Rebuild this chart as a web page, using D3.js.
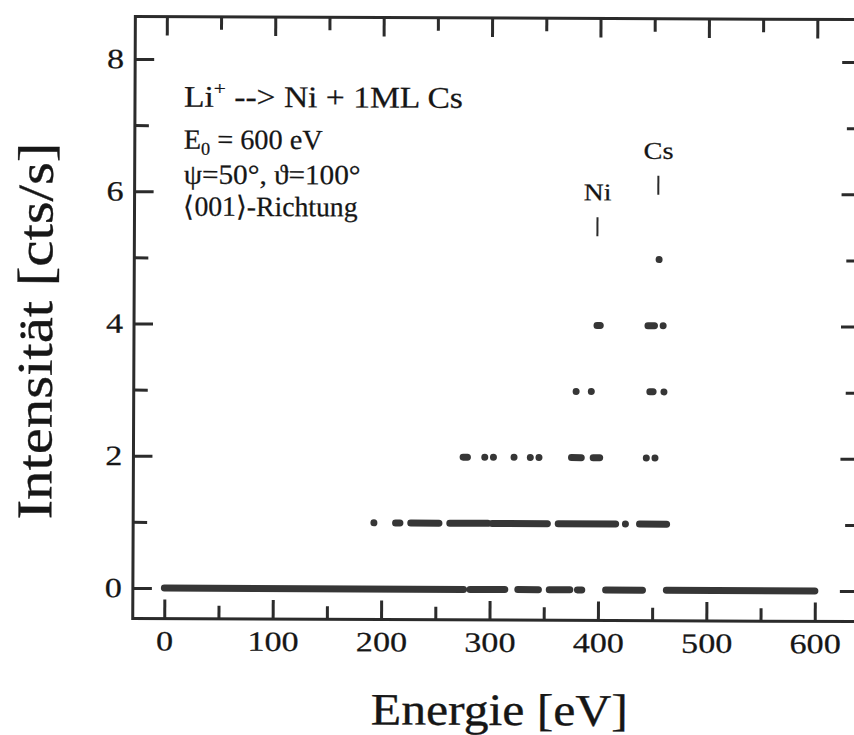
<!DOCTYPE html>
<html>
<head>
<meta charset="utf-8">
<script src="https://cdn.jsdelivr.net/npm/d3@7"></script>
<style>
  html, body { margin: 0; padding: 0; background: #fff; }
  svg { display: block; }
</style>
</head>
<body>
<svg id="chart" width="854" height="735"></svg>
<script>
// Energy spectrum of Li+ scattered from Ni + 1 ML Cs.
// For every count rate (cts/s) the energy ranges [from, to] in eV
// where measured points sit at that rate (from == to is a single point).
const countLevels = [0, 1, 2, 3, 4, 5];
const runsAt0 = [[0, 276], [282, 314], [326, 345], [355, 374], [381, 385], [407, 441], [463, 600]];
const runsAt1 = [[193, 193], [213, 217], [227, 253], [263, 298], [302, 353], [363, 416], [425, 425], [438, 463]];
const runsAt2 = [[275, 279], [295, 295], [303, 303], [322, 322], [337, 337], [345, 345], [375, 384], [395, 401], [444, 444], [452, 452]];
const runsAt3 = [[379, 379], [393, 393], [447, 450], [460, 460]];
const runsAt4 = [[398, 401], [445, 451], [459, 459]];
const runsAt5 = [[455, 455]];

const energyMajorTicks = [0, 100, 200, 300, 400, 500, 600];
const energyMinorTicks = [50, 150, 250, 350, 450, 550];
const rateMajorTicks = [0, 2, 4, 6, 8];
const rateMinorTicks = [1, 3, 5, 7];

// element markers: name, energy (eV), rate level where the marker stroke ends
const peakNames = ["Ni", "Cs"];
const peakEnergies = [398, 454];
const peakMarkerRates = [5.35, 5.98];

const xTitle = "Energie [eV]";
const yTitle = "Intensität [cts/s]";

// ---------------------------------------------------------------------------
const svg = d3.select("#chart");
const frame = { left: 134, top: 18, right: 860, bottom: 620 };
const x = d3.scaleLinear().domain([0, 600]).range([165.5, 816]);
const y = d3.scaleLinear().domain([0, 8]).range([589.5, 60.5]);

const ink = "#2b2b2b";
const textInk = "#161616";
const dotInk = "#363636";
const serif = '"Liberation Serif", "Times New Roman", Times, serif';
const dotR = 3.5;
const textWeight = 0.25; // thin outline that thickens the glyphs a little

// the whole figure sits very slightly turned
const g = svg.append("g").attr("transform", "rotate(0.25 490 330)");

// frame
g.append("rect")
  .attr("x", frame.left).attr("y", frame.top)
  .attr("width", frame.right - frame.left)
  .attr("height", frame.bottom - frame.top)
  .attr("fill", "none").attr("stroke", ink).attr("stroke-width", 3);

function styleAxis(sel, labelStretch) {
  sel.attr("font-family", null).attr("font-size", null);
  sel.select(".domain").remove();
  sel.selectAll(".tick line").attr("stroke", ink).attr("stroke-width", 3);
  sel.selectAll(".tick text")
    .attr("fill", textInk)
    .attr("stroke", textInk)
    .attr("stroke-width", textWeight)
    .attr("font-family", serif)
    .attr("font-size", 28)
    .attr("transform", `scale(${labelStretch},1)`);
}
const none = () => "";
const fmt = d3.format("d");

// bottom: energy axis, ticks point inward
g.append("g").attr("transform", `translate(0,${frame.bottom})`)
  .call(d3.axisBottom(x).tickValues(energyMajorTicks).tickSize(-19).tickPadding(12).tickFormat(fmt))
  .call(s => styleAxis(s, 1.22));
g.append("g").attr("transform", `translate(0,${frame.bottom})`)
  .call(d3.axisBottom(x).tickValues(energyMinorTicks).tickSize(-13).tickFormat(none))
  .call(s => styleAxis(s, 1));

// top
g.append("g").attr("transform", `translate(0,${frame.top})`)
  .call(d3.axisTop(x).tickValues(energyMajorTicks).tickSize(-19).tickFormat(none))
  .call(s => styleAxis(s, 1));
g.append("g").attr("transform", `translate(0,${frame.top})`)
  .call(d3.axisTop(x).tickValues(energyMinorTicks).tickSize(-13).tickFormat(none))
  .call(s => styleAxis(s, 1));

// left: count-rate axis
g.append("g").attr("transform", `translate(${frame.left},0)`)
  .call(d3.axisLeft(y).tickValues(rateMajorTicks).tickSize(-19).tickPadding(9).tickFormat(fmt))
  .call(s => styleAxis(s, 1.22));
g.append("g").attr("transform", `translate(${frame.left},0)`)
  .call(d3.axisLeft(y).tickValues(rateMinorTicks).tickSize(-14).tickFormat(none))
  .call(s => styleAxis(s, 1));

// right
g.append("g").attr("transform", `translate(${frame.right},0)`)
  .call(d3.axisRight(y).tickValues(rateMajorTicks).tickSize(-19).tickFormat(none))
  .call(s => styleAxis(s, 1));
g.append("g").attr("transform", `translate(${frame.right},0)`)
  .call(d3.axisRight(y).tickValues(rateMinorTicks).tickSize(-14).tickFormat(none))
  .call(s => styleAxis(s, 1));

// measured points: neighbouring points merge into rounded runs
const levelRuns = [runsAt0, runsAt1, runsAt2, runsAt3, runsAt4, runsAt5];
const runs = countLevels.flatMap((c, i) =>
  levelRuns[i].map(([e0, e1]) => ({ count: c, e0, e1 })));

g.append("g").selectAll("rect")
  .data(runs)
  .join("rect")
  .attr("x", d => x(d.e0) - dotR)
  .attr("y", d => y(d.count) - dotR)
  .attr("width", d => x(d.e1) - x(d.e0) + 2 * dotR)
  .attr("height", 2 * dotR)
  .attr("rx", dotR).attr("ry", dotR)
  .attr("fill", dotInk);

// text helper: builds a text, then stretches it horizontally to a given width
function fitText(parent, opts) {
  const t = parent.append("text")
    .attr("font-family", serif)
    .attr("font-size", opts.size)
    .attr("text-anchor", opts.anchor || "start")
    .attr("fill", textInk)
    .attr("stroke", textInk)
    .attr("stroke-width", opts.weight == null ? textWeight : opts.weight);
  opts.build(t);
  const w = t.node().getBBox().width;
  const sx = opts.width ? opts.width / w : 1;
  const rot = opts.rotate ? ` rotate(${opts.rotate})` : "";
  t.attr("transform", `translate(${opts.x},${opts.y})${rot} scale(${sx},1)`);
  return t;
}

// experiment description
const note = g.append("g");
fitText(note, { x: 183, y: 108, size: 30, width: 279, build: t => {
  t.append("tspan").text("Li");
  t.append("tspan").attr("font-size", 19).attr("dy", -12).text("+");
  t.append("tspan").attr("dy", 12).text(" --> Ni + 1ML Cs");
}});
fitText(note, { x: 183, y: 150, size: 28, width: 139, build: t => {
  t.append("tspan").text("E");
  t.append("tspan").attr("font-size", 18).attr("dy", 6).text("0");
  t.append("tspan").attr("dy", -6).text(" = 600 eV");
}});
fitText(note, { x: 183, y: 185, size: 28, width: 177, build: t => t.text("ψ=50°, ϑ=100°") });
fitText(note, { x: 183, y: 217, size: 28, width: 174, build: t => t.text("⟨001⟩-Richtung") });

// element markers
const peaks = peakNames.map((n, i) => ({ name: n, energy: peakEnergies[i], rate: peakMarkerRates[i] }));
const pg = g.append("g");
peaks.forEach(p => {
  const px = x(p.energy), pBottom = y(p.rate);
  pg.append("line")
    .attr("x1", px).attr("x2", px)
    .attr("y1", pBottom).attr("y2", pBottom - 19)
    .attr("stroke", ink).attr("stroke-width", 2);
  fitText(pg, { x: px, y: pBottom - 19 - 17, size: 24, anchor: "middle",
    width: p.name === "Ni" ? 28 : 30, build: t => t.text(p.name) });
});

// axis titles
fitText(g, { x: 501, y: 725, size: 45, anchor: "middle", width: 257, weight: 0.35, build: t => t.text(xTitle) });
fitText(g, { x: 52, y: 333, size: 50, anchor: "middle", rotate: -90, width: 377, weight: 0.35, build: t => t.text(yTitle) });
</script>
</body>
</html>
